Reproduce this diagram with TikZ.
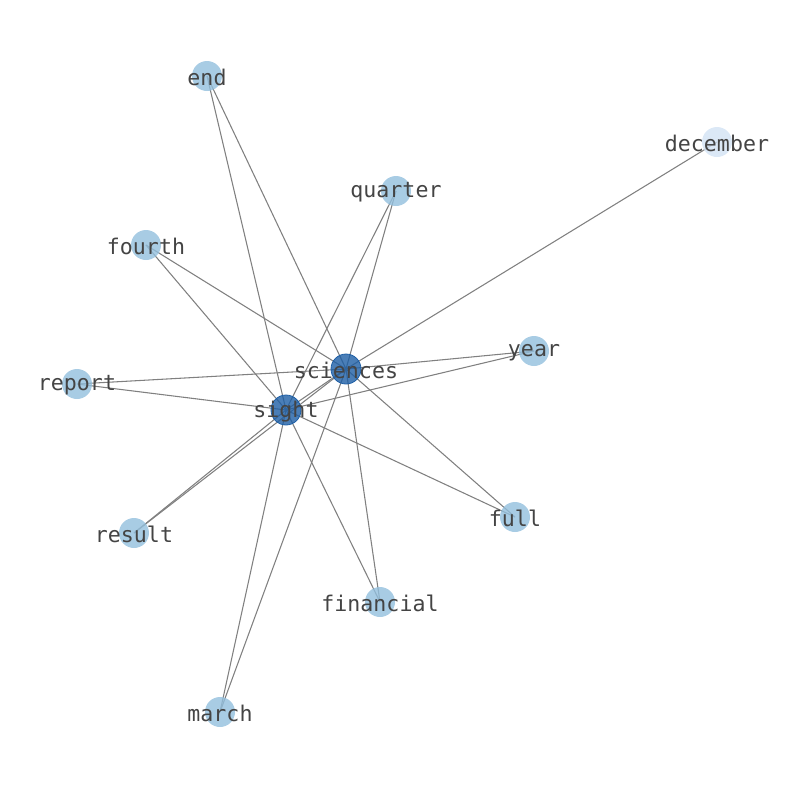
\documentclass[tikz,border=0pt]{standalone}
\usepackage{fontspec}
\usepackage{xcolor}
\usetikzlibrary{backgrounds}
\newfontfamily\wordfont{DejaVu Sans Mono}

\definecolor{lightword}{RGB}{146,191,221}
\definecolor{darkword}{RGB}{29,94,165}
\definecolor{paleword}{RGB}{210,226,244}
\definecolor{wordtext}{RGB}{68,68,68}
\definecolor{edgegray}{RGB}{128,128,128}

\begin{document}
\begin{tikzpicture}[x=0.75pt,y=0.75pt,yscale=-1,xscale=1,
	word/.style={circle,minimum size=22.5pt,inner sep=0pt,fill=lightword,fill opacity=0.8,
		label={[text=wordtext,font=\wordfont\fontsize{16.2}{19}\selectfont,text opacity=1,yshift=-1.2pt]center:#1}},
	hubword/.style={word=#1,fill=darkword,draw=darkword,line width=0.6pt},
	paleword/.style={word=#1,fill=paleword},
	link/.style={draw=edgegray,line width=0.8pt}]
	%set diagram from (0,0) to (794,790)
	\useasboundingbox (0,0) rectangle (794,790);

	% Nodes
	\node [hubword=sciences] (sciences) at (346,369) {};
	\node [hubword=sight] (sight) at (286,410) {};
	\node [word=end] (end) at (207,76) {};
	\node [paleword=december] (december) at (717,142) {};
	\node [word=quarter] (quarter) at (396,191) {};
	\node [word=fourth] (fourth) at (146,245) {};
	\node [word=year] (year) at (534,351) {};
	\node [word=report] (report) at (77,384) {};
	\node [word=result] (result) at (134,533) {};
	\node [word=full] (full) at (515,517) {};
	\node [word=financial] (financial) at (380,602) {};
	\node [word=march] (march) at (220,712) {};

	% Edges
	\begin{pgfonlayer}{background}
	\foreach \w in {end,december,quarter,fourth,year,report,sight,result,full,financial,march}
		\draw [link] (sciences.center) -- (\w.center);
	\foreach \w in {end,quarter,fourth,year,report,result,full,financial,march}
		\draw [link] (sight.center) -- (\w.center);
	\end{pgfonlayer}

\end{tikzpicture}
\end{document}
